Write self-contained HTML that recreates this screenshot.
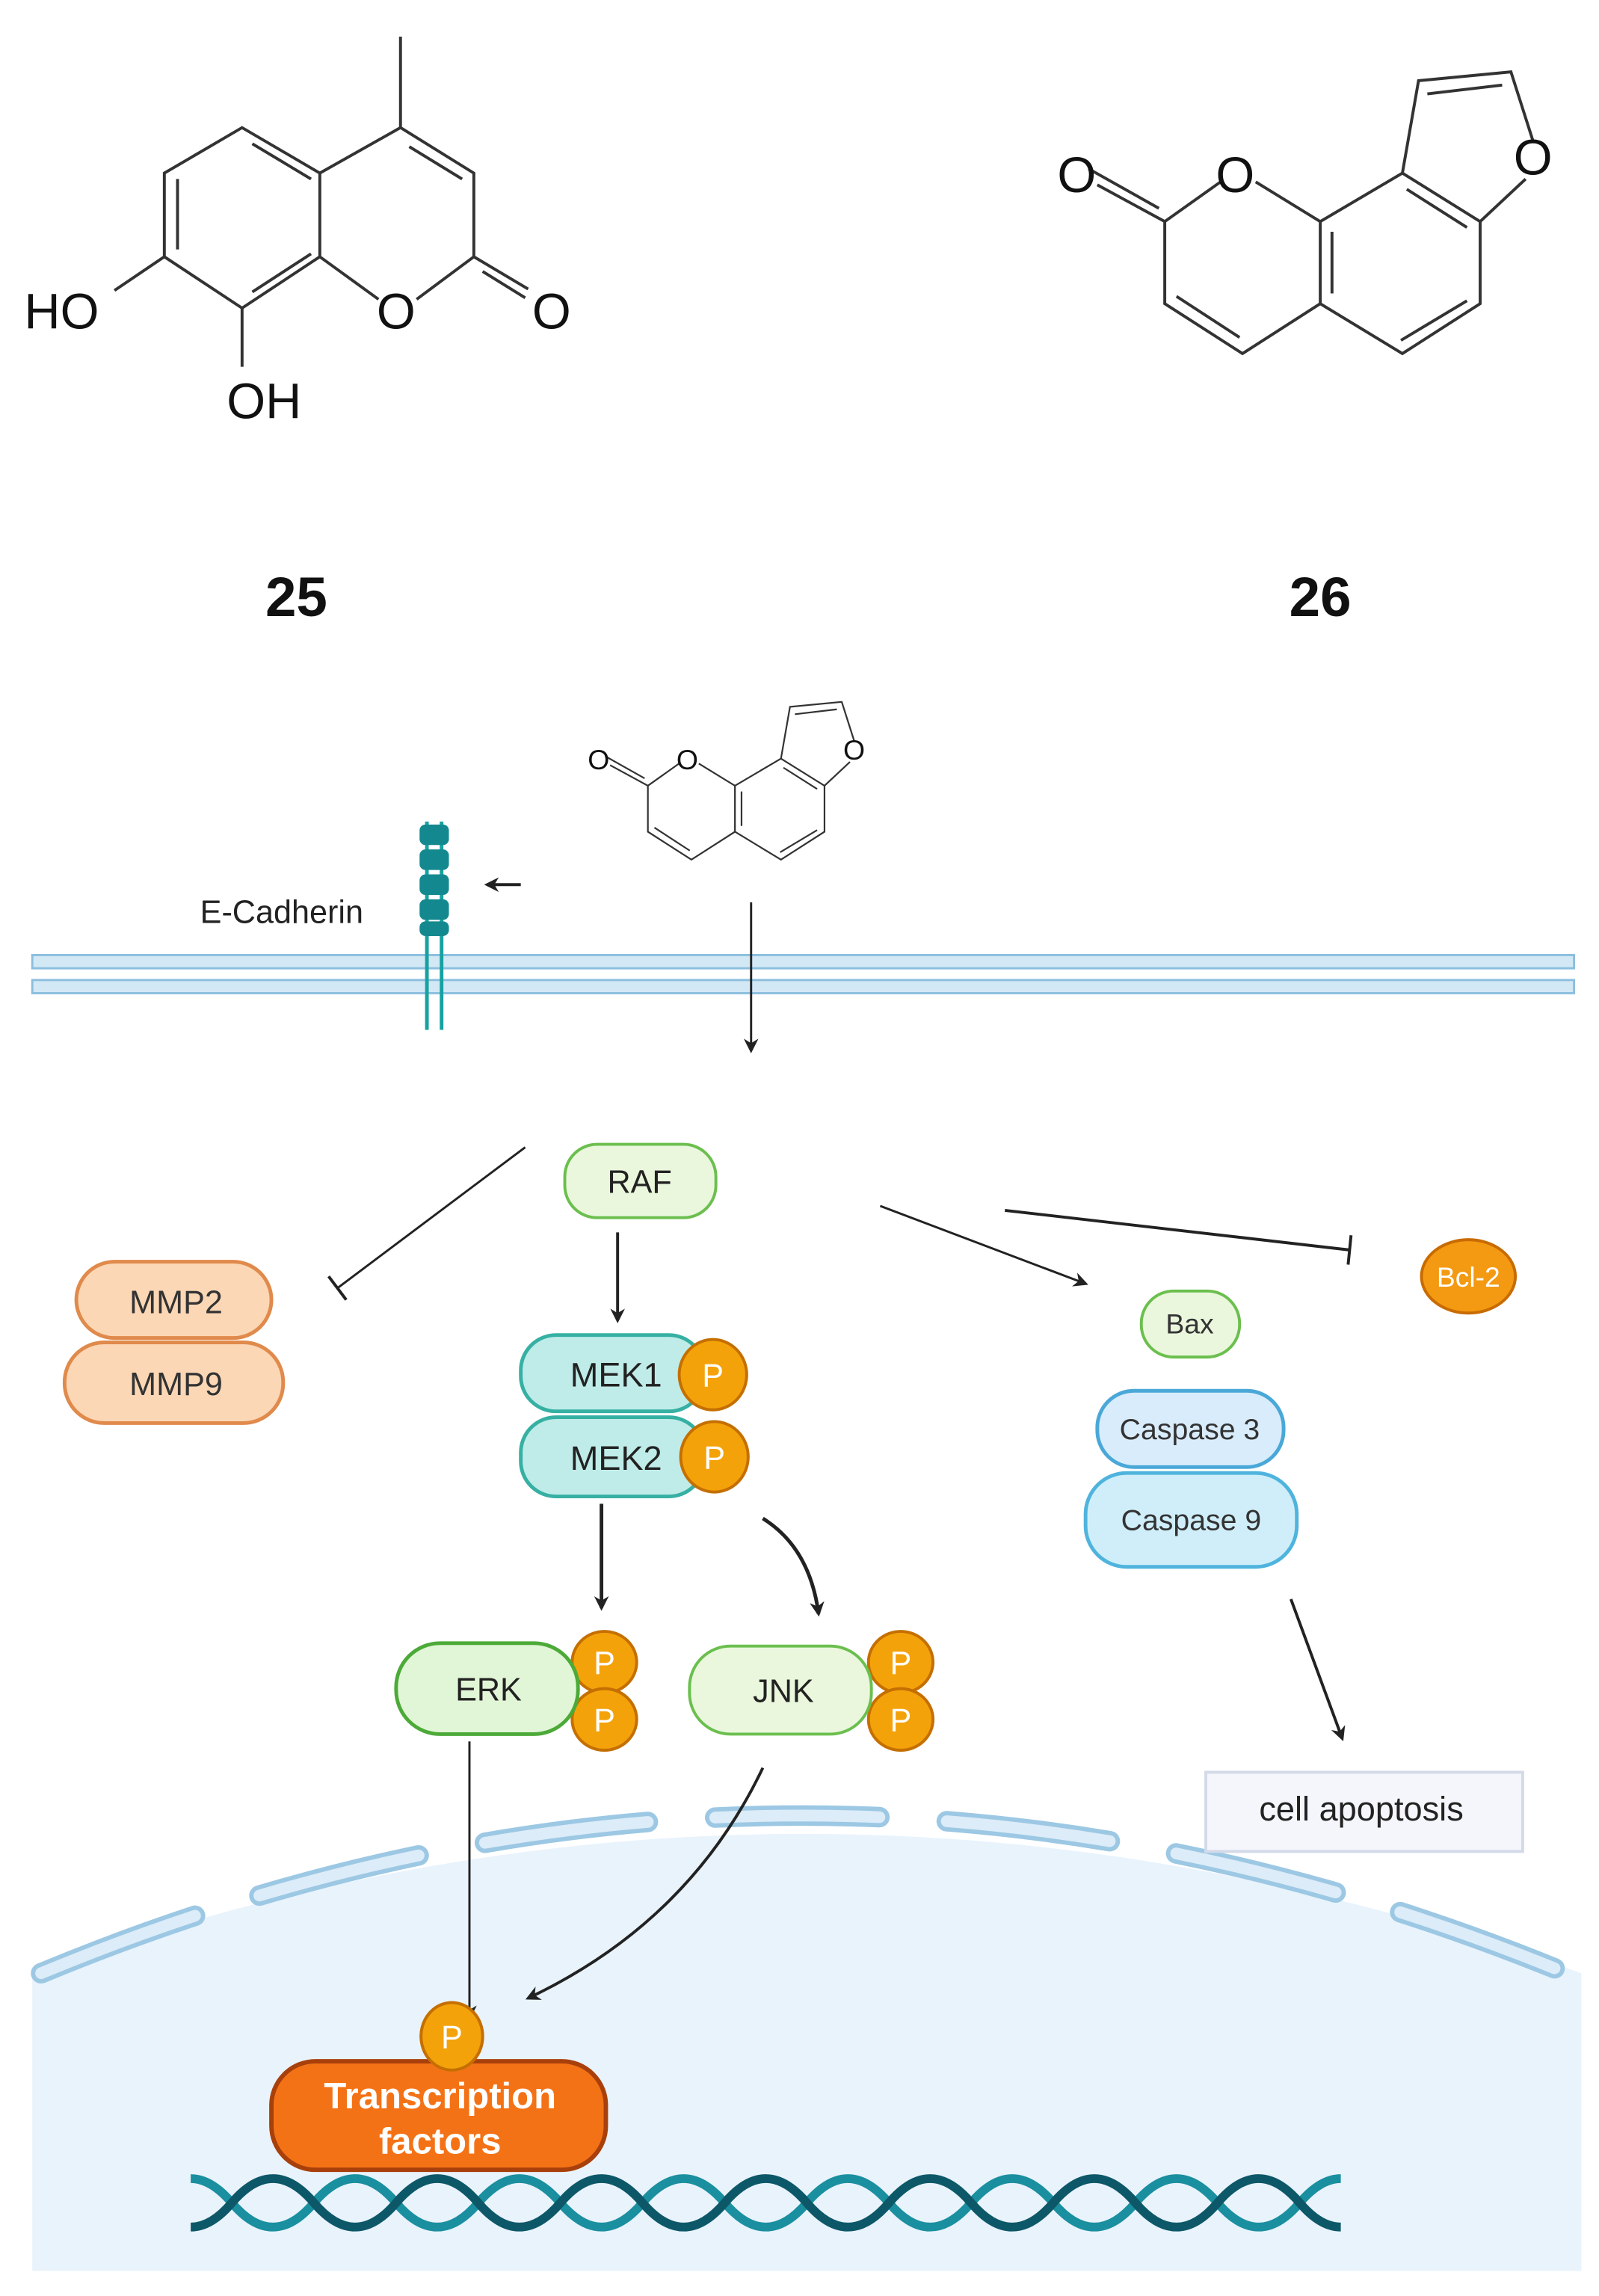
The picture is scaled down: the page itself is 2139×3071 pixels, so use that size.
<!DOCTYPE html>
<html><head><meta charset="utf-8"><style>
html,body{margin:0;padding:0;background:#fff}
svg{display:block}
text{font-family:"Liberation Sans",Arial,sans-serif}
</style></head><body>
<svg width="2139" height="3071" viewBox="0 0 1090 1565" xmlns="http://www.w3.org/2000/svg">
<defs>
<marker id="ah" markerWidth="10" markerHeight="10" refX="8" refY="5" orient="auto" markerUnits="userSpaceOnUse"><path d="M0,0 L10,5 L0,10 L3,5 Z" fill="#222"/></marker>
</defs>
<rect width="1090" height="1565" fill="#fff"/>
<!-- Molecule 25 -->
<g stroke="#333" stroke-width="2" fill="none">
<path d="M273,25 L273,87 L323,118 L323,175 L284,204 M258,204 L218,175 L218,118 L273,87"/>
<path d="M218,118 L165,87 L112,118 L112,175 L165,210 L218,175"/>
<path d="M279,100 L315,122 M172,98 L212,122 M121,122 L121,170 M172,199 L212,173"/>
<path d="M112,175 L78,198 M165,210 L165,250 M323,175 L360,197 M329,185 L358,203"/>
</g>
<g font-size="34" fill="#111" text-anchor="middle">
<text x="42" y="224">HO</text><text x="180" y="285">OH</text>
<text x="270" y="224">O</text><text x="376" y="224">O</text>
</g>
<text x="202" y="420" font-size="38" font-weight="bold" text-anchor="middle" fill="#111">25</text>
<!-- Molecule 26 -->
<g id="m26">
<g stroke="#333" stroke-width="2" fill="none">
<path d="M748,126 L794,151 L794,207 L847,241 L900,207 L900,151 L856,124 M832,124 L794,151"/>
<path d="M900,151 L956,118 L1009,151 L1009,207 L956,241 L900,207"/>
<path d="M956,118 L967,55 L1030,49 L1045,96 M1009,151 L1040,122"/>
<path d="M802,202 L845,230 M908,158 L908,200 M959,129 L1000,155 M1000,205 L955,232 M973,64 L1024,58"/>
<path d="M742,115 L790,142"/>
</g>
<g font-size="34" fill="#111" text-anchor="middle">
<text x="734" y="131">O</text><text x="842" y="131">O</text><text x="1045" y="119">O</text>
</g>
</g>
<text x="900" y="420" font-size="38" font-weight="bold" text-anchor="middle" fill="#111">26</text>
<!-- small molecule -->
<use href="#m26" transform="translate(-3,451) scale(0.56)"/>
<!-- membrane -->
<rect x="22" y="651" width="1051" height="9" fill="#d3e8f5" stroke="#8cbfdf" stroke-width="1.5"/>
<rect x="22" y="668" width="1051" height="9" fill="#d3e8f5" stroke="#8cbfdf" stroke-width="1.5"/>
<!-- E-cadherin -->
<g stroke="#17a2a2" stroke-width="2.5">
<line x1="291" y1="560" x2="291" y2="702"/><line x1="301" y1="560" x2="301" y2="702"/>
</g>
<g fill="#13898f">
<rect x="286" y="562" width="20" height="14" rx="4"/><rect x="286" y="579" width="20" height="14" rx="4"/><rect x="286" y="596" width="20" height="14" rx="4"/><rect x="286" y="613" width="20" height="14" rx="4"/><rect x="286" y="628" width="20" height="10" rx="4"/>
</g>
<text x="192" y="629" font-size="22" text-anchor="middle" fill="#222">E-Cadherin</text>
<line x1="355" y1="603" x2="332" y2="603" stroke="#222" stroke-width="2" marker-end="url(#ah)"/>
<line x1="512" y1="615" x2="512" y2="716" stroke="#222" stroke-width="1.5" marker-end="url(#ah)"/>
<!-- nucleus -->
<path d="M22,1345 Q545,1155 1078,1345 L1078,1548 L22,1548 Z" fill="#e9f3fc"/>
<path d="M28,1345 Q545,1130 1068,1345" fill="none" stroke="#9cc8e4" stroke-width="14" stroke-dasharray="112,46" stroke-dashoffset="0" stroke-linecap="round"/>
<path d="M28,1345 Q545,1130 1068,1345" fill="none" stroke="#dcecf8" stroke-width="8" stroke-dasharray="112,46" stroke-linecap="round"/>
<!-- RAF -->
<rect x="385" y="780" width="103" height="50" rx="22" fill="#eaf7dd" stroke="#6bbf4e" stroke-width="2"/>
<text x="436" y="813" font-size="22" text-anchor="middle" fill="#222">RAF</text>
<line x1="358" y1="782" x2="230" y2="878" stroke="#222" stroke-width="1.5"/>
<line x1="224" y1="870" x2="236" y2="886" stroke="#222" stroke-width="2"/>
<!-- MMP -->
<rect x="52" y="860" width="133" height="52" rx="26" fill="#fbd7b5" stroke="#e08a4b" stroke-width="2.5"/>
<rect x="44" y="915" width="149" height="55" rx="27" fill="#fbd7b5" stroke="#e08a4b" stroke-width="2.5"/>
<text x="120" y="895" font-size="22" text-anchor="middle" fill="#333">MMP2</text>
<text x="120" y="951" font-size="22" text-anchor="middle" fill="#333">MMP9</text>
<line x1="421" y1="840" x2="421" y2="900" stroke="#222" stroke-width="2" marker-end="url(#ah)"/>
<!-- MEK -->
<rect x="355" y="910" width="125" height="52" rx="24" fill="#bfece8" stroke="#36b0a3" stroke-width="2.5"/>
<rect x="355" y="966" width="125" height="54" rx="24" fill="#bfece8" stroke="#36b0a3" stroke-width="2.5"/>
<text x="420" y="945" font-size="23" text-anchor="middle" fill="#222">MEK1</text>
<text x="420" y="1002" font-size="23" text-anchor="middle" fill="#222">MEK2</text>
<g fill="#f4a20a" stroke="#c46f00" stroke-width="2">
<ellipse cx="486" cy="937" rx="23" ry="24"/><ellipse cx="487" cy="993" rx="23" ry="24"/>
<ellipse cx="412" cy="1133" rx="22" ry="21"/><ellipse cx="412" cy="1172" rx="22" ry="21"/>
<ellipse cx="614" cy="1133" rx="22" ry="21"/><ellipse cx="614" cy="1172" rx="22" ry="21"/>
<ellipse cx="308" cy="1388" rx="21" ry="23"/>
</g>
<g font-size="22" fill="#fff" text-anchor="middle">
<text x="486" y="945">P</text><text x="487" y="1001">P</text>
<text x="412" y="1141">P</text><text x="412" y="1180">P</text>
<text x="614" y="1141">P</text><text x="614" y="1180">P</text>
<text x="308" y="1396">P</text>
</g>
<line x1="410" y1="1025" x2="410" y2="1096" stroke="#222" stroke-width="2.5" marker-end="url(#ah)"/>
<path d="M520,1035 Q552,1055 558,1100" fill="none" stroke="#222" stroke-width="2.5" marker-end="url(#ah)"/>
<!-- ERK/JNK -->
<rect x="270" y="1120" width="124" height="62" rx="30" fill="#e1f6d6" stroke="#4caa38" stroke-width="2.5"/>
<rect x="470" y="1122" width="124" height="60" rx="28" fill="#eaf7dd" stroke="#6bbf4e" stroke-width="2"/>
<text x="333" y="1159" font-size="22" text-anchor="middle" fill="#222">ERK</text>
<text x="534" y="1160" font-size="22" text-anchor="middle" fill="#222">JNK</text>
<!-- right side -->
<line x1="600" y1="822" x2="740" y2="875" stroke="#222" stroke-width="1.5" marker-end="url(#ah)"/>
<line x1="685" y1="825" x2="920" y2="852" stroke="#222" stroke-width="2"/>
<line x1="921" y1="842" x2="919" y2="862" stroke="#222" stroke-width="2"/>
<ellipse cx="1001" cy="870" rx="32" ry="25" fill="#f39a12" stroke="#c86b00" stroke-width="2"/>
<text x="1001" y="877" font-size="19" text-anchor="middle" fill="#fff">Bcl-2</text>
<rect x="778" y="880" width="67" height="45" rx="22" fill="#eaf7dd" stroke="#6bbf4e" stroke-width="2"/>
<text x="811" y="909" font-size="19" text-anchor="middle" fill="#333">Bax</text>
<rect x="748" y="948" width="127" height="52" rx="25" fill="#d9ecfb" stroke="#4aa8d8" stroke-width="2.5"/>
<rect x="740" y="1004" width="144" height="64" rx="28" fill="#cfeefa" stroke="#4fb4dd" stroke-width="2.5"/>
<text x="811" y="981" font-size="20" text-anchor="middle" fill="#333">Caspase 3</text>
<text x="812" y="1043" font-size="20" text-anchor="middle" fill="#333">Caspase 9</text>
<line x1="880" y1="1090" x2="915" y2="1185" stroke="#222" stroke-width="2" marker-end="url(#ah)"/>
<rect x="822" y="1208" width="216" height="54" fill="#f4f6fb" stroke="#d3dae8" stroke-width="2"/>
<text x="928" y="1241" font-size="23" text-anchor="middle" fill="#222">cell apoptosis</text>
<!-- to TF -->
<line x1="320" y1="1187" x2="320" y2="1375" stroke="#222" stroke-width="1.5" marker-end="url(#ah)"/>
<path d="M520,1205 Q470,1310 360,1362" fill="none" stroke="#222" stroke-width="2" marker-end="url(#ah)"/>
<!-- TF -->
<rect x="185" y="1405" width="228" height="74" rx="30" fill="#f47216" stroke="#a8400c" stroke-width="3"/>
<ellipse cx="308" cy="1388" rx="21" ry="23" fill="#f4a20a" stroke="#c46f00" stroke-width="2"/>
<text x="308" y="1396" font-size="22" fill="#fff" text-anchor="middle">P</text>
<text x="300" y="1437" font-size="25" font-weight="bold" text-anchor="middle" fill="#fff">Transcription</text>
<text x="300" y="1468" font-size="25" font-weight="bold" text-anchor="middle" fill="#fff">factors</text>
<!-- DNA -->
<path d="M130,1485 q14,0 28,16.5 t28,16.5 t28,-16.5 t28,-16.5 t28,16.5 t28,16.5 t28,-16.5 t28,-16.5 t28,16.5 t28,16.5 t28,-16.5 t28,-16.5 t28,16.5 t28,16.5 t28,-16.5 t28,-16.5 t28,16.5 t28,16.5 t28,-16.5 t28,-16.5 t28,16.5 t28,16.5 t28,-16.5 t28,-16.5 t28,16.5 t28,16.5 t28,-16.5 t28,-16.5" fill="none" stroke="#1a8f9f" stroke-width="6"/>
<path d="M130,1518 q14,0 28,-16.5 t28,-16.5 t28,16.5 t28,16.5 t28,-16.5 t28,-16.5 t28,16.5 t28,16.5 t28,-16.5 t28,-16.5 t28,16.5 t28,16.5 t28,-16.5 t28,-16.5 t28,16.5 t28,16.5 t28,-16.5 t28,-16.5 t28,16.5 t28,16.5 t28,-16.5 t28,-16.5 t28,16.5 t28,16.5 t28,-16.5 t28,-16.5 t28,16.5 t28,16.5" fill="none" stroke="#0d5868" stroke-width="6"/>
</svg>
</body></html>
